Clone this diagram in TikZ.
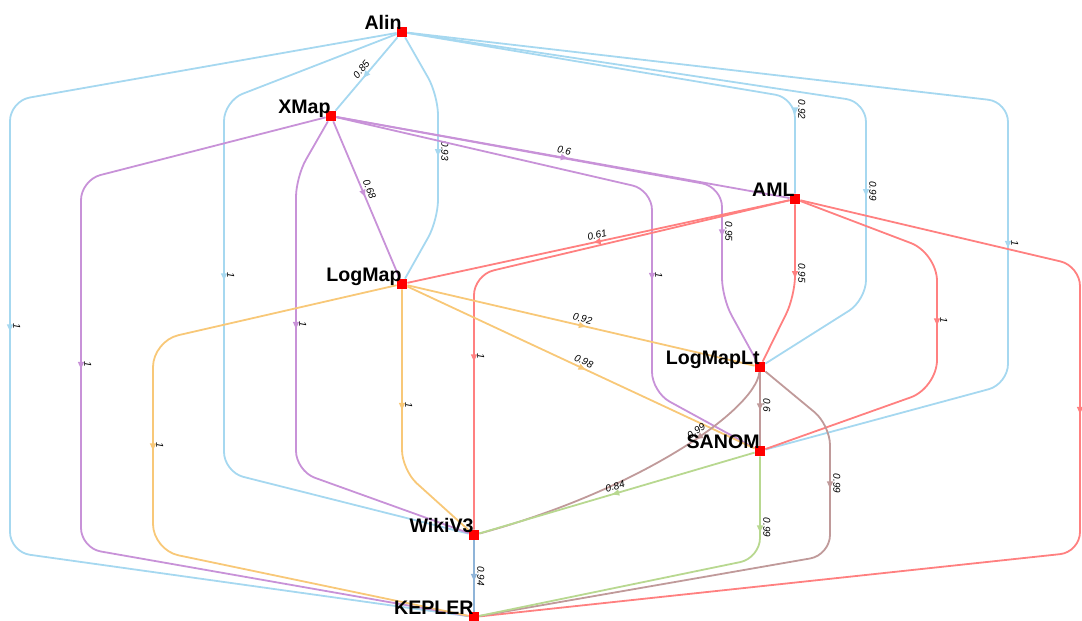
\documentclass[tikz,border=0pt]{standalone}
\usepackage{fontspec}
\setmainfont{Liberation Sans}
\usetikzlibrary{shapes.geometric,backgrounds}
\definecolor{alinC}{RGB}{166,216,240}
\definecolor{xmapC}{RGB}{200,146,216}
\definecolor{amlC}{RGB}{255,128,128}
\definecolor{logmapC}{RGB}{248,200,120}
\definecolor{ltC}{RGB}{192,154,154}
\definecolor{sanomC}{RGB}{184,216,144}
\definecolor{wikiC}{RGB}{143,180,216}
\begin{document}
\begin{tikzpicture}[x=0.5pt,y=-0.5pt,
    sys/.style={rectangle,fill=red,minimum size=5pt,inner sep=0pt,
      label={[anchor=base east,inner sep=0pt,yshift=-1.2pt,font=\fontsize{9.8}{12}\selectfont\bfseries]north:#1}},
    link/.style={draw=#1,line width=0.9pt,rounded corners=10pt},
    tip/.style={sloped,allow upside down,sharp corners,isosceles triangle,
      isosceles triangle apex angle=50,fill=#1,inner sep=0pt,minimum size=3.2pt},
    wt/.style={sloped,above,inner sep=1.2pt,font=\fontsize{5}{6}\selectfont\itshape}]
    \useasboundingbox (0,0) rectangle (1082,621);

    \node[sys=Alin] (alin) at (402,32) {};
    \node[sys=XMap] (xmap) at (331,116) {};
    \node[sys=AML] (aml) at (795,199) {};
    \node[sys=LogMap] (logmap) at (402,284) {};
    \node[sys=LogMapLt] (lt) at (760,367) {};
    \node[sys=SANOM] (sanom) at (760,451) {};
    \node[sys=WikiV3] (wiki) at (474,535) {};
    \node[sys=KEPLER] (kepler) at (474,617) {};

    \begin{scope}[on background layer]
    % Alin
    \draw[link=alinC] (alin) -- node[tip=alinC]{} node[wt]{0.85} (xmap);
    \draw[link=alinC] (alin) -- (438,95) -- node[pos=0.45,tip=alinC]{} node[pos=0.45,wt]{0.93} (438,220) -- (logmap);
    \draw[link=alinC] (alin) -- (224,101) -- node[pos=0.47,tip=alinC]{} node[pos=0.47,wt]{1} (224,472) -- (wiki);
    \draw[link=alinC] (alin) -- (10,101) -- node[tip=alinC]{} node[wt]{1} (10,552) -- (kepler);
    \draw[link=alinC] (alin) -- (795,98) -- node[pos=0.12,tip=alinC]{} node[pos=0.12,wt]{0.92} (aml);
    \draw[link=alinC] (alin) -- (866,102) -- node[pos=0.45,tip=alinC]{} node[pos=0.45,wt]{0.99} (866,300) -- (lt);
    \draw[link=alinC] (alin) -- (1008,102) -- node[tip=alinC]{} node[wt]{1} (1008,384) -- (sanom);
    % XMap
    \draw[link=xmapC] (xmap) -- node[pos=0.45,tip=xmapC]{} node[pos=0.45,wt]{0.68} (logmap);
    \draw[link=xmapC] (xmap) -- node[tip=xmapC]{} node[wt]{0.6} (aml);
    \draw[link=xmapC] (xmap) -- (296,177) -- node[tip=xmapC]{} node[wt]{1} (296,471) -- (wiki);
    \draw[link=xmapC] (xmap) -- (81,180) -- node[tip=xmapC]{} node[wt]{1} (81,548) -- (kepler);
    \draw[link=xmapC] (xmap) -- (652,190) -- node[pos=0.42,tip=xmapC]{} node[pos=0.42,wt]{1} (652,392) -- (sanom);
    \draw[link=xmapC] (xmap) -- (722,187) -- node[pos=0.4,tip=xmapC]{} node[pos=0.4,wt]{0.95} (722,298) -- (lt);
    % AML
    \draw[link=amlC] (aml) -- node[tip=amlC]{} node[wt]{0.61} (logmap);
    \draw[link=amlC] (aml) -- (474,275) -- node[pos=0.32,tip=amlC]{} node[pos=0.32,wt]{1} (wiki);
    \draw[link=amlC] (aml) -- node[pos=0.75,tip=amlC]{} node[pos=0.75,wt]{0.95} (795,296) -- (lt);
    \draw[link=amlC,rounded corners=14pt] (aml) -- (937,253) -- node[tip=amlC]{} node[wt]{1} (937,388) -- (sanom);
    \draw[link=amlC] (aml) -- (1080,266) -- node[tip=amlC]{} (1080,552) -- (kepler);
    % LogMap
    \draw[link=logmapC] (logmap) -- node[tip=logmapC]{} node[wt]{0.92} (lt);
    \draw[link=logmapC] (logmap) -- node[tip=logmapC]{} node[wt]{0.98} (sanom);
    \draw[link=logmapC] (logmap) -- node[pos=0.64,tip=logmapC]{} node[pos=0.64,wt]{1} (402,470) -- (wiki);
    \draw[link=logmapC,rounded corners=13pt] (logmap) -- (153,341) -- node[tip=logmapC]{} node[wt]{1} (153,550) -- (kepler);
    % LogMapLt
    \draw[link=ltC] (lt) -- node[pos=0.45,tip=ltC]{} node[pos=0.45,wt]{0.6} (sanom);
    \draw[link=ltC] (lt) .. controls (755,410) and (640,490) .. node[pos=0.42,tip=ltC]{} node[pos=0.42,wt]{0.99} (wiki);
    \draw[link=ltC] (lt) -- (830,425) -- node[pos=0.45,tip=ltC]{} node[pos=0.45,wt]{0.99} (830,555) -- (kepler);
    % SANOM
    \draw[link=sanomC] (sanom) -- node[tip=sanomC]{} node[wt]{0.84} (wiki);
    \draw[link=sanomC] (sanom) -- node[pos=0.7,tip=sanomC]{} node[pos=0.7,wt]{0.99} (760,558) -- (kepler);
    % WikiV3
    \draw[link=wikiC] (wiki) -- node[tip=wikiC]{} node[wt]{0.94} (kepler);
    \end{scope}
\end{tikzpicture}
\end{document}
